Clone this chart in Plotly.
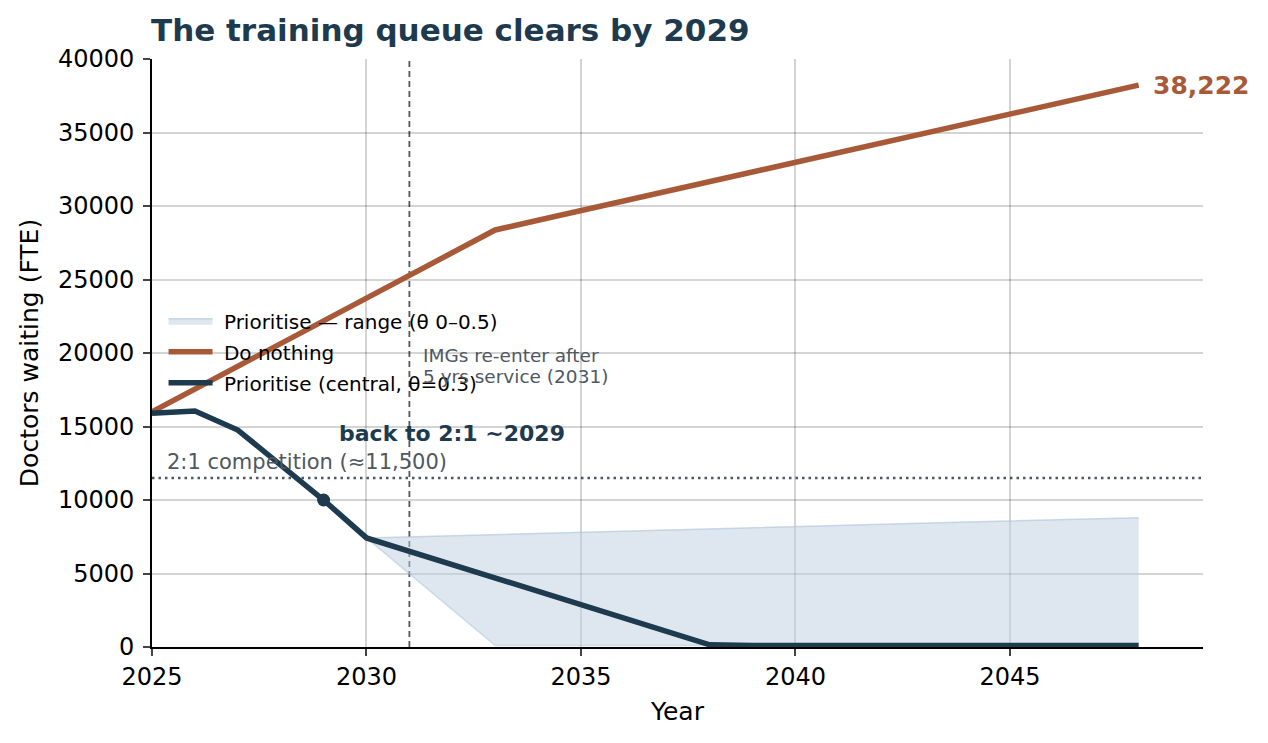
import plotly.graph_objects as go

years = list(range(2025, 2049))
do_nothing = [16000, 17550, 19100, 20640, 22190, 23740, 25280, 26830, 28370,
              29030, 29690, 30340, 31000, 31660, 32310, 32970, 33630, 34290,
              34940, 35600, 36260, 36910, 37570, 38222]
central = [15900, 16050, 14760, 12400, 10000, 7420, 6510, 5610, 4700,
           3790, 2880, 1980, 1070, 150, 100, 100, 100, 100,
           100, 100, 100, 100, 100, 100]
band_years = list(range(2030, 2049))
band_upper = [7420, 7500, 7580, 7650, 7730, 7810, 7880, 7960, 8040, 8110,
              8190, 8270, 8340, 8420, 8500, 8570, 8650, 8730, 8800]
band_lower = [7420, 4980, 2540, 100, 100, 100, 100, 100, 100, 100,
              100, 100, 100, 100, 100, 100, 100, 100, 100]
threshold = 11500
img_year = 2031
back_year = 2029
back_value = 10000

NAVY = "#1e3a4f"
RUST = "#a85a38"
GRAY = "#4f5860"
FONT = "DejaVu Sans"
PAD = "\u00a0"

fig = go.Figure()
fig.add_trace(go.Scatter(x=band_years, y=band_lower, mode="lines",
                         line=dict(color="rgba(170,195,215,0.5)", width=1.5),
                         showlegend=False, hoverinfo="skip", legendgroup="a"))
fig.add_trace(go.Scatter(x=band_years, y=band_upper, mode="lines", fill="tonexty",
                         fillcolor="rgba(190,208,224,0.5)",
                         line=dict(color="rgba(170,195,215,0.6)", width=1.5),
                         name=PAD + "Prioritise — range (θ 0–0.5)", legendgroup="a"))
fig.add_trace(go.Scatter(x=years, y=do_nothing, mode="lines",
                         line=dict(color=RUST, width=5.5), name=PAD + "Do nothing",
                         legendgroup="b"))
fig.add_trace(go.Scatter(x=years, y=central, mode="lines",
                         line=dict(color=NAVY, width=5.5),
                         name=PAD + "Prioritise (central, θ=0.3)", legendgroup="c"))
fig.add_trace(go.Scatter(x=[back_year], y=[back_value], mode="markers",
                         marker=dict(color=NAVY, size=13), showlegend=False,
                         legendgroup="c"))

fig.add_shape(type="line", xref="paper", yref="y", x0=0, x1=1, y0=threshold, y1=threshold,
              line=dict(color=GRAY, width=2.5, dash="2.5px,4px"), layer="below")
fig.add_shape(type="line", xref="x", yref="paper", x0=img_year, x1=img_year, y0=0, y1=1,
              line=dict(color=GRAY, width=1.8, dash="6px,4px"), layer="below")

fig.add_annotation(x=2025.3, y=threshold, yshift=2, text="2:1 competition (≈11,500)",
                   showarrow=False, xanchor="left", yanchor="bottom",
                   font=dict(size=21, color=GRAY, family=FONT))
fig.add_annotation(x=back_year + 3, y=14500, text="<b>back to 2:1 ~2029</b>",
                   showarrow=False, xanchor="center", yanchor="middle",
                   font=dict(size=22, color=NAVY, family=FONT))
fig.add_annotation(x=img_year + 0.28, y=19860, text="IMGs re-enter after",
                   showarrow=False, xanchor="left", yanchor="middle", align="left",
                   font=dict(size=18.5, color=GRAY, family=FONT))
fig.add_annotation(x=img_year + 0.28, y=18370, text="5 yrs service (2031)",
                   showarrow=False, xanchor="left", yanchor="middle", align="left",
                   font=dict(size=18.5, color=GRAY, family=FONT))
fig.add_annotation(x=years[-1], y=do_nothing[-1], xshift=12, text="<b>38,222</b>",
                   showarrow=False, xanchor="left", yanchor="middle",
                   font=dict(size=25, color=RUST, family=FONT))

fig.update_layout(
    width=1268, height=743,
    margin=dict(l=152, r=65, t=59, b=96),
    plot_bgcolor="white", paper_bgcolor="white",
    font=dict(family=FONT, size=24, color="black"),
    title=dict(text="<b>The training queue clears by 2029</b>", x=151/1268, xanchor="left",
               y=1 - 30/743, yanchor="middle", font=dict(size=31, color=NAVY)),
    legend=dict(x=0.011, y=0.588, xanchor="left", yanchor="top",
                bgcolor="rgba(0,0,0,0)", font=dict(size=20), traceorder="grouped",
                itemwidth=44, tracegroupgap=2),
    showlegend=True,
)
fig.update_xaxes(range=[2025, 2049.5], tickvals=[2025, 2030, 2035, 2040, 2045],
                 showgrid=True, gridcolor="rgba(0,0,0,0.17)", gridwidth=1.5,
                 showline=True, linecolor="black", linewidth=1.8,
                 ticks="outside", ticklen=7, tickwidth=1.8, zeroline=False,
                 ticklabelstandoff=0,
                 title=dict(text="Year", font=dict(size=25), standoff=13))
fig.update_yaxes(range=[0, 40000], dtick=5000, tickformat="d",
                 showgrid=True, gridcolor="rgba(0,0,0,0.17)", gridwidth=1.5,
                 showline=True, linecolor="black", linewidth=1.8,
                 ticks="outside", ticklen=7, tickwidth=1.8, zeroline=False,
                 ticklabelstandoff=4,
                 title=dict(text="Doctors waiting (FTE)", font=dict(size=25), standoff=12))

fig.write_html("out.html")
